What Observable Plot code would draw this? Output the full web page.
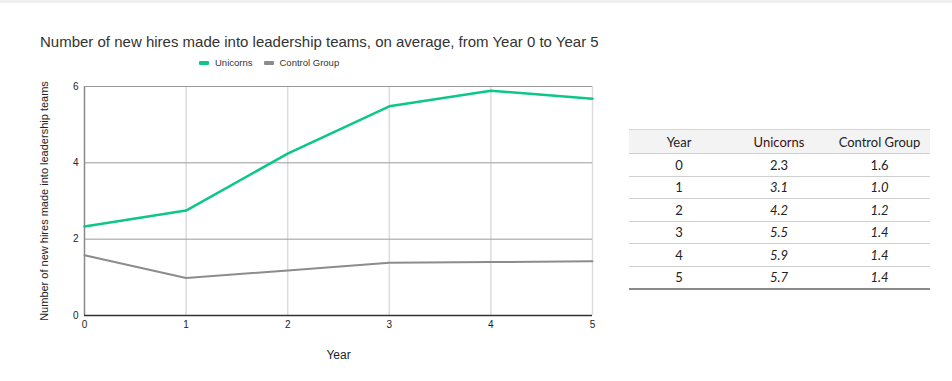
<!DOCTYPE html>
<html>
<head>
<meta charset="utf-8">
<script src="https://cdn.jsdelivr.net/npm/d3@7"></script>
<script src="https://cdn.jsdelivr.net/npm/@observablehq/plot@0.6"></script>
<style>
  html, body { margin: 0; padding: 0; background: #fff; }
  #page { position: relative; width: 952px; height: 381px; overflow: hidden; background: #fff; font-family: "Liberation Sans", Arial, sans-serif; }
  #topband { position: absolute; left: 0; top: 0; width: 952px; height: 3px; background: #efefef; }
  #title { position: absolute; left: 40px; top: 33px; font-size: 15px; color: #333; white-space: nowrap; }
  #legend { position: absolute; left: 199px; top: 57px; font-size: 9.5px; color: #333; white-space: nowrap; display: flex; align-items: center; }
  .sw { display: inline-block; width: 10px; height: 4px; border-radius: 1px; margin-right: 6px; }
  .item { display: flex; align-items: center; margin-right: 11px; }
  #chart { position: absolute; left: 0; top: 70px; }
  #tbl { position: absolute; left: 629px; top: 129px; width: 301px; table-layout: fixed; border-collapse: collapse; font-family: Lato, "Open Sans", sans-serif; font-size: 13px; color: #222; }
  #tbl th { font-weight: normal; text-align: center; background: #f3f3f3; height: 23px; padding: 0; border-top: 1.5px solid #d6d6d6; border-bottom: 1.5px solid #cfcfcf; }
  #tbl td { text-align: center; height: 21.5px; padding: 0; border-bottom: 1.5px solid #d0d0d0; }
  #tbl tr:last-child td { border-bottom: 2px solid #8a8a8a; }
  #tbl td.it { font-style: italic; }
</style>
</head>
<body>
<div id="page">
  <div id="topband"></div>
  <div id="title">Number of new hires made into leadership teams, on average, from Year 0 to Year 5</div>
  <div id="legend"></div>
  <div id="chart"></div>
  <table id="tbl"><colgroup><col style="width:100px"><col style="width:100px"><col style="width:101px"></colgroup></table>
</div>
<script>
// ---- data ----
const years = [0, 1, 2, 3, 4, 5];
const unicornsLine = [2.33, 2.75, 4.24, 5.48, 5.89, 5.68];
const controlLine = [1.58, 0.98, 1.18, 1.38, 1.40, 1.42];
const seriesNames = ["Unicorns", "Control Group"];
const seriesColors = ["#0cc68a", "#8c8c8c"];
const yTicks = [0, 2, 4, 6];
const xTicks = [0, 1, 2, 3, 4, 5];
const tableHeader = ["Year", "Unicorns", "Control Group"];
const tableYears = ["0", "1", "2", "3", "4", "5"];
const tableUnicorns = ["2.3", "3.1", "4.2", "5.5", "5.9", "5.7"];
const tableControl = ["1.6", "1.0", "1.2", "1.4", "1.4", "1.4"];

// ---- legend ----
const legend = document.getElementById("legend");
seriesNames.forEach((n, i) => {
  const it = document.createElement("span");
  it.className = "item";
  it.innerHTML = `<span class="sw" style="background:${seriesColors[i]}"></span>${n}`;
  legend.appendChild(it);
});

// ---- chart ----
const rows = [];
years.forEach((yr, i) => {
  rows.push({year: yr, value: unicornsLine[i], series: seriesNames[0]});
  rows.push({year: yr, value: controlLine[i], series: seriesNames[1]});
});

const chart = Plot.plot({
  width: 610,
  height: 300,
  marginLeft: 84,
  marginRight: 18,
  marginTop: 16,
  marginBottom: 55,
  style: { fontFamily: "'Liberation Sans', Arial, sans-serif", fontSize: "10px", color: "#222", background: "transparent" },
  x: { domain: [0, 5], ticks: xTicks, tickFormat: d => String(d), tickSize: 0, tickPadding: 5, label: "Year", labelAnchor: "center", labelOffset: 43 },
  y: { domain: [0, 6], ticks: yTicks, tickFormat: d => String(d), tickSize: 0, tickPadding: 6, label: "Number of new hires made into leadership teams", labelAnchor: "center", labelOffset: 44 },
  color: { domain: seriesNames, range: seriesColors },
  marks: [
    Plot.ruleX(xTicks.slice(1), { stroke: "#dcdcdc", strokeWidth: 1.5 }),
    Plot.ruleY(yTicks.slice(1), { stroke: "#9a9a9a", strokeWidth: 1 }),
    Plot.ruleX([0], { stroke: "#8a8a8a", strokeWidth: 1.5 }),
    Plot.ruleY([0], { stroke: "#333", strokeWidth: 1.5 }),
    Plot.line(rows, { x: "year", y: "value", z: "series", stroke: "series", strokeWidth: 2, strokeLinejoin: "round" }),
  ]
});
chart.querySelectorAll("[aria-label='line'] path").forEach(p => {
  const s = p.getAttribute("stroke");
  p.setAttribute("stroke-width", s === seriesColors[0] ? "2.5" : "2");
});
chart.querySelectorAll("text").forEach(t => {
  const txt = t.textContent;
  if (/[↑→]/.test(txt)) t.textContent = txt.replace(/\s*[↑→]\s*/g, "").trim();
});
chart.querySelectorAll("[aria-label='x-axis label'] text, [aria-label='y-axis label'] text").forEach(t => {
  t.style.fill = "#222";
});
chart.querySelectorAll("[aria-label='x-axis label'] text").forEach(t => { t.style.fontSize = "12px"; });
chart.querySelectorAll("[aria-label='y-axis label'] text").forEach(t => { t.style.fontSize = "11px"; });
document.getElementById("chart").appendChild(chart);

// ---- table ----
const tbl = document.getElementById("tbl");
const head = document.createElement("tr");
tableHeader.forEach((h, i) => {
  const th = document.createElement("th");
  th.textContent = h;
  if (i === 1) th.style.color = "#3d0f12";
  head.appendChild(th);
});
tbl.appendChild(head);
tableYears.forEach((yr, i) => {
  const tr = document.createElement("tr");
  [yr, tableUnicorns[i], tableControl[i]].forEach((v, j) => {
    const td = document.createElement("td");
    td.textContent = v;
    if (i > 0 && j > 0) td.className = "it";
    tr.appendChild(td);
  });
  tbl.appendChild(tr);
});
</script>
</body>
</html>
